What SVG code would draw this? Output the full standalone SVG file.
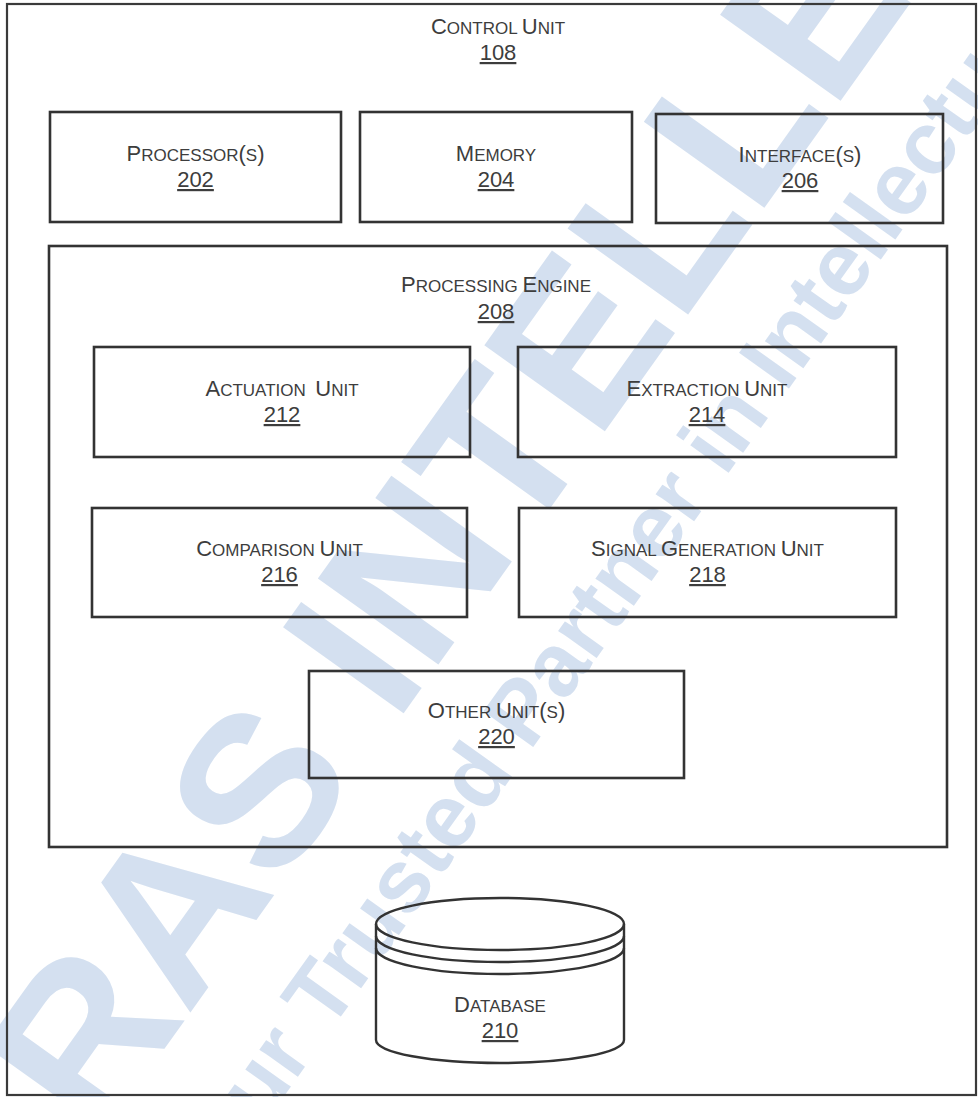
<svg xmlns="http://www.w3.org/2000/svg" width="978" height="1097" viewBox="0 0 978 1097">
  <style>
    .frame { fill: none; stroke: #3a3a3a; stroke-width: 2.2; }
    .box { fill: none; stroke: #333; stroke-width: 2.6; }
    .cyl { fill: none; stroke: #333; stroke-width: 2.4; }
    .t { font-family: "Liberation Sans", Arial, sans-serif; font-size: 17px; fill: #3d3d3d; text-anchor: middle; }
    .b { font-size: 22px; }
    .n { font-size: 22px; text-decoration: underline; }
    .wm { font-family: "Liberation Sans", Arial, sans-serif; font-weight: bold; fill: #d4e0f0; }
  </style>
  <rect width="978" height="1097" fill="#fff"/>

  <g id="watermark" transform="translate(187,1017) rotate(-54.5)">
    <text class="wm" x="-155" y="0" font-size="215">RAS INTELLECT</text>
    <text class="wm" x="-152" y="125" font-size="89">Your Trusted Partner in Intellectual Property</text>
  </g>

  <g id="control-unit">
    <rect class="frame" x="7" y="4" width="969" height="1091"/>
    <text class="t" x="498" y="34"><tspan class="b">C</tspan>ONTROL <tspan class="b">U</tspan>NIT</text>
    <text class="t n" x="498" y="60">108</text>
  </g>

  <g id="processor">
    <rect class="box" x="50" y="112" width="291" height="110"/>
    <text class="t" x="195.5" y="161"><tspan class="b">P</tspan>ROCESSOR<tspan class="b">(</tspan>S<tspan class="b">)</tspan></text>
    <text class="t n" x="195.5" y="187">202</text>
  </g>

  <g id="memory">
    <rect class="box" x="360" y="112" width="272" height="110"/>
    <text class="t" x="496" y="161"><tspan class="b">M</tspan>EMORY</text>
    <text class="t n" x="496" y="187">204</text>
  </g>

  <g id="interface">
    <rect class="box" x="656" y="114" width="287" height="109"/>
    <text class="t" x="800" y="162"><tspan class="b">I</tspan>NTERFACE<tspan class="b">(</tspan>S<tspan class="b">)</tspan></text>
    <text class="t n" x="800" y="188">206</text>
  </g>

  <g id="processing-engine">
    <rect class="box" x="49" y="246" width="898" height="601"/>
    <text class="t" x="496" y="292"><tspan class="b">P</tspan>ROCESSING <tspan class="b">E</tspan>NGINE</text>
    <text class="t n" x="496" y="319">208</text>
  </g>

  <g id="actuation-unit">
    <rect class="box" x="94" y="347" width="376" height="110"/>
    <text class="t" x="282" y="396" xml:space="preserve"><tspan class="b">A</tspan>CTUATION  <tspan class="b">U</tspan>NIT</text>
    <text class="t n" x="282" y="422">212</text>
  </g>

  <g id="extraction-unit">
    <rect class="box" x="518" y="347" width="378" height="110"/>
    <text class="t" x="707" y="396"><tspan class="b">E</tspan>XTRACTION <tspan class="b">U</tspan>NIT</text>
    <text class="t n" x="707" y="422">214</text>
  </g>

  <g id="comparison-unit">
    <rect class="box" x="92" y="508" width="375" height="109"/>
    <text class="t" x="279.5" y="556"><tspan class="b">C</tspan>OMPARISON <tspan class="b">U</tspan>NIT</text>
    <text class="t n" x="279.5" y="582">216</text>
  </g>

  <g id="signal-generation-unit">
    <rect class="box" x="519" y="508" width="377" height="109"/>
    <text class="t" x="707.5" y="556"><tspan class="b">S</tspan>IGNAL <tspan class="b">G</tspan>ENERATION <tspan class="b">U</tspan>NIT</text>
    <text class="t n" x="707.5" y="582">218</text>
  </g>

  <g id="other-units">
    <rect class="box" x="309" y="671" width="375" height="107"/>
    <text class="t" x="496.5" y="718"><tspan class="b">O</tspan>THER <tspan class="b">U</tspan>NIT<tspan class="b">(</tspan>S<tspan class="b">)</tspan></text>
    <text class="t n" x="496.5" y="744">220</text>
  </g>

  <g id="database">
    <path class="cyl" d="M376,924 L376,1040 A124,23 0 0 0 624,1040 L624,924"/>
    <ellipse class="cyl" cx="500" cy="924" rx="124" ry="26"/>
    <path class="cyl" d="M376,936 A124,26 0 0 0 624,936"/>
    <path class="cyl" d="M376,948 A124,26 0 0 0 624,948"/>
    <text class="t" x="500" y="1012"><tspan class="b">D</tspan>ATABASE</text>
    <text class="t n" x="500" y="1038">210</text>
  </g>

  <g id="connectors"></g>
</svg>
